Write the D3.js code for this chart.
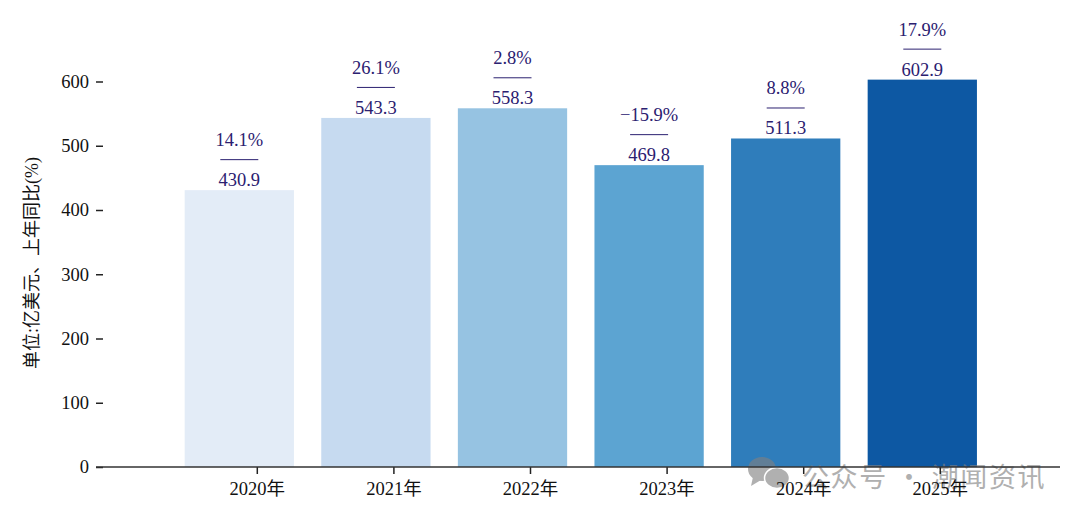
<!DOCTYPE html>
<html>
<head>
<meta charset="utf-8">
<script src="https://cdn.jsdelivr.net/npm/d3@7"></script>
<style>
  html, body { margin: 0; padding: 0; background: #fff; }
  text { font-family: "Liberation Serif", "Noto Sans CJK SC", serif; }
</style>
</head>
<body>
<svg id="chart" width="1080" height="519"></svg>
<script>
const years = ["2020年", "2021年", "2022年", "2023年", "2024年", "2025年"];
const revenue = [430.9, 543.3, 558.3, 469.8, 511.3, 602.9];
const growth = ["14.1%", "26.1%", "2.8%", "−15.9%", "8.8%", "17.9%"];
const barColors = ["#e3ecf7", "#c6daf0", "#96c3e2", "#5ca4d2", "#2f7dbb", "#0d58a3"];
const yTicks = [0, 100, 200, 300, 400, 500, 600];

const labelColor = "#2b2070";
const fontSize = 18.5;

const svg = d3.select("#chart");

const x = d3.scaleBand().domain(years).range([171, 990.6]).paddingInner(0.2).paddingOuter(0.1);
// the tick marks sit to the right of the bar centres in the original
const xTick = d3.scaleBand().domain(years).range([189, 1008.6]).paddingInner(0.2).paddingOuter(0.1);
const y = d3.scaleLinear().domain([0, 600]).range([467, 81.5]);

// bars
svg.append("g")
  .selectAll("rect")
  .data(years)
  .join("rect")
  .attr("x", d => x(d))
  .attr("y", (d, i) => y(revenue[i]))
  .attr("width", x.bandwidth())
  .attr("height", (d, i) => y(0) - y(revenue[i]))
  .attr("fill", (d, i) => barColors[i]);

// watermark
const wm = svg.append("g").attr("fill", "#808080").attr("opacity", 0.62);
wm.append("ellipse").attr("cx", 762).attr("cy", 469).attr("rx", 14).attr("ry", 12);
wm.append("path").attr("d", d3.line()([[753, 477], [751, 486], [761, 480]]));
wm.append("ellipse").attr("cx", 777).attr("cy", 478).attr("rx", 12.5).attr("ry", 10.5)
  .attr("stroke", "#fff").attr("stroke-width", 1.5);
wm.append("text")
  .attr("x", 802)
  .attr("y", 487)
  .attr("font-size", 27)
  .style("font-family", "'Noto Sans CJK SC'")
  .style("letter-spacing", "1.6px")
  .text("公众号 · 潮闻资讯");

// value labels
const labels = svg.append("g")
  .selectAll("g")
  .data(years)
  .join("g")
  .attr("transform", (d, i) => `translate(${x(d) + x.bandwidth() / 2},${y(revenue[i])})`)
  .attr("fill", labelColor)
  .attr("text-anchor", "middle")
  .attr("font-size", fontSize);

labels.append("text").attr("y", -4).text((d, i) => revenue[i].toFixed(1));
labels.append("line")
  .attr("x1", -19).attr("x2", 19)
  .attr("y1", -30.5).attr("y2", -30.5)
  .attr("stroke", labelColor)
  .attr("stroke-width", 1);
labels.append("text").attr("y", -44).text((d, i) => growth[i]);

// y axis, ticks only
const yAxis = svg.append("g")
  .attr("transform", "translate(103,0)")
  .call(d3.axisLeft(y).tickValues(yTicks).tickSize(7).tickPadding(7).tickFormat(d3.format("d")));
yAxis.select(".domain").remove();
yAxis.selectAll("line").attr("stroke", "#222").attr("stroke-width", 1.5);
yAxis.selectAll("text").attr("fill", "#111").attr("font-size", fontSize).style("font-family", null);

// x axis
const xAxis = svg.append("g")
  .attr("transform", `translate(0,${y(0)})`)
  .call(d3.axisBottom(xTick).tickSize(7).tickPadding(8));
xAxis.select(".domain").remove();
xAxis.selectAll("line").attr("stroke", "#222").attr("stroke-width", 1.5);
xAxis.selectAll("text").attr("fill", "#111").attr("font-size", fontSize).style("font-family", null);
xAxis.append("line")
  .attr("x1", 96).attr("x2", 1060)
  .attr("stroke", "#333")
  .attr("stroke-width", 1.5);

// y axis title
svg.append("text")
  .attr("transform", "translate(38,263) rotate(-90)")
  .attr("text-anchor", "middle")
  .attr("fill", "#111")
  .attr("font-size", 18)
  .text("单位:亿美元、上年同比(%)");
</script>
</body>
</html>
